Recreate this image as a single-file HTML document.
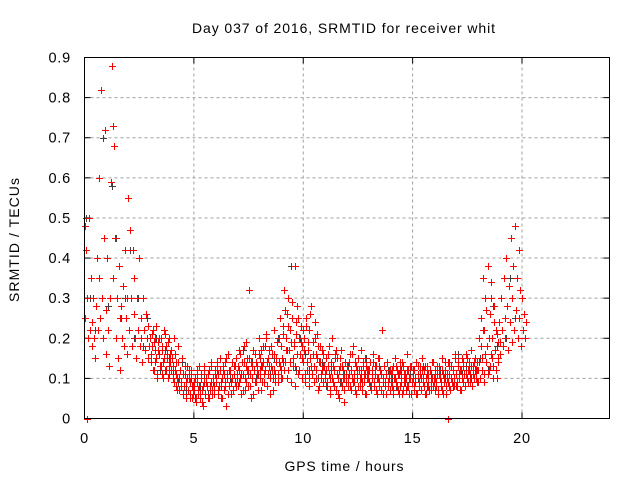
<!DOCTYPE html>
<html><head><meta charset="utf-8"><style>
html,body{margin:0;padding:0;background:#fff}
svg{display:block;font-family:"Liberation Sans",sans-serif}
</style></head><body>
<svg id="chart" width="640" height="480">
<text x="343.5" y="33" font-size="14" text-anchor="middle" textLength="303" lengthAdjust="spacing">Day 037 of 2016, SRMTID for receiver whit</text>
<text x="344" y="471" font-size="14" text-anchor="middle" textLength="119" lengthAdjust="spacing">GPS time / hours</text>
<text transform="translate(19,240) rotate(-90)" font-size="14" text-anchor="middle" textLength="124" lengthAdjust="spacing">SRMTID / TECUs</text>
<g id="grid"></g><g id="ticks"></g><g id="marks"></g>
<rect x="84.5" y="57.5" width="525" height="361" fill="none" stroke="#000" stroke-width="1"/>
</svg>
<script>
const xTicks=[0,5,10,15,20];
const yTicks=[0,0.1,0.2,0.3,0.4,0.5,0.6,0.7,0.8,0.9];
const yTickLabels=["0","0.1","0.2","0.3","0.4","0.5","0.6","0.7","0.8","0.9"];
// red series A: 25 samples per hour starting at 0 h
const redStartA=0, redRateA=25;
const redA=[
0.48,0.25,0.42,0.3,0.2,0.5,0.22,0.35,0.18,0.24,0.3,0.2,0.15,0.28,0.4,0.22,0.6,0.35,0.25,0.82,0.3,0.2,0.45,0.72,0.27,
0.16,0.4,0.22,0.13,0.3,0.59,0.88,0.73,0.35,0.68,0.45,0.2,0.3,0.15,0.38,0.25,0.12,0.28,0.2,0.33,0.18,0.42,0.25,0.16,0.3,
0.55,0.22,0.47,0.3,0.18,0.42,0.26,0.35,0.2,0.15,0.3,0.22,0.4,0.18,0.25,0.2,0.14,0.3,0.22,0.17,0.26,0.2,0.15,0.23,0.18,
0.2,0.14,0.18,0.22,0.12,0.17,0.2,0.15,0.1,0.19,0.16,0.13,0.2,0.11,0.17,0.14,0.22,0.12,0.18,0.15,0.1,0.2,0.13,0.16,0.12,
0.15,0.1,0.2,0.12,0.08,0.14,0.1,0.18,0.07,0.12,0.09,0.15,0.06,0.11,0.08,0.13,0.05,0.1,0.07,0.12,0.06,0.09,0.11,0.05,0.08,
0.07,0.1,0.04,0.09,0.12,0.06,0.08,0.05,0.11,0.07,0.03,0.09,0.13,0.06,0.1,0.08,0.05,0.12,0.07,0.09,0.14,0.06,0.1,0.08,0.11,
0.09,0.13,0.06,0.11,0.08,0.15,0.05,0.1,0.12,0.07,0.14,0.09,0.03,0.11,0.16,0.08,0.12,0.06,0.1,0.14,0.07,0.13,0.09,0.15,0.11,
0.08,0.12,0.17,0.1,0.06,0.14,0.11,0.18,0.07,0.13,0.09,0.15,0.12,0.32,0.08,0.14,0.1,0.17,0.06,0.12,0.16,0.09,0.13,0.11,0.2,
0.1,0.15,0.07,0.13,0.18,0.09,0.12,0.2,0.08,0.14,0.11,0.17,0.06,0.13,0.16,0.1,0.22,0.12,0.09,0.15,0.19,0.11,0.14,0.25,0.12,
0.18,0.1,0.23,0.32,0.14,0.2,0.26,0.12,0.3,0.17,0.22,0.09,0.25,0.15,0.19,0.38,0.13,0.24,0.28,0.11,0.2,0.16,0.23,0.1,0.18,
0.14,0.2,0.09,0.25,0.12,0.17,0.22,0.08,0.15,0.28,0.11,0.19,0.13,0.24,0.1,0.16,0.21,0.07,0.14,0.18,0.1,0.12,0.16,0.09,0.13,
0.11,0.15,0.08,0.13,0.18,0.1,0.06,0.14,0.2,0.09,0.12,0.16,0.07,0.11,0.15,0.1,0.05,0.13,0.17,0.08,0.12,0.04,0.1,0.14,0.09,
0.13,0.08,0.11,0.16,0.07,0.12,0.1,0.18,0.09,0.14,0.06,0.11,0.15,0.08,0.12,0.1,0.17,0.07,0.13,0.09,0.11,0.15,0.06,0.12,0.1,
0.09,0.14,0.07,0.12,0.1,0.16,0.08,0.11,0.13,0.06,0.1,0.15,0.09,0.12,0.07,0.22,0.1,0.13,0.08,0.11,0.06,0.14,0.09,0.12,0.07,
0.11,0.08,0.13,0.06,0.1,0.15,0.09,0.12,0.07,0.11,0.14,0.08,0.1,0.06,0.13,0.09,0.11,0.07,0.12,0.16,0.08,0.1,0.13,0.06,0.09,
0.1,0.07,0.12,0.09,0.14,0.06,0.11,0.08,0.13,0.1,0.07,0.15,0.09,0.12,0.06,0.1,0.13,0.08,0.11,0.07,0.12,0.09,0.14,0.08,0.1,
0.07,0.12,0.09,0.11,0.06,0.13,0.1,0.08,0.15,0.07,0.11,0.09,0.12,0.06,0.1,0.14,0.08,0.11,0.07,0.13,0.09,0.12,0.1,0.16,0.08,
0.11,0.08,0.14,0.1,0.12,0.07,0.15,0.09,0.13,0.11,0.08,0.16,0.1,0.12,0.14,0.09,0.11,0.17,0.08,0.13,0.1,0.15,0.12,0.09,0.14,
0.12,0.2,0.1,0.25,0.15,0.35,0.11,0.22,0.3,0.14,0.18,0.38,0.12,0.26,0.16,0.34,0.2,0.13,0.28,0.17,0.22,0.1,0.15,0.19,0.24,
0.16,0.3,0.22,0.18,0.35,0.25,0.2,0.4,0.28,0.17,0.33,0.24,0.45,0.19,0.3,0.38,0.22,0.48,0.27,0.35,0.2,0.42,0.25,0.32,0.18,
0.3,0.22,0.26,0.2,0.24];
// red series B: 20 samples per hour starting at 3 h (offset half-sample)
const redStartB=3, redRateB=20;
const redB=[
0.16,0.21,0.12,0.19,0.14,0.23,0.11,0.17,0.2,0.13,0.18,0.1,0.15,0.21,0.12,0.16,0.19,0.11,0.14,0.17,
0.13,0.09,0.16,0.11,0.07,0.14,0.1,0.12,0.08,0.15,0.06,0.11,0.09,0.13,0.07,0.1,0.05,0.12,0.08,0.06,
0.09,0.05,0.11,0.07,0.13,0.06,0.1,0.04,0.08,0.12,0.06,0.09,0.11,0.05,0.08,0.13,0.07,0.1,0.06,0.12,
0.1,0.14,0.07,0.12,0.09,0.05,0.13,0.11,0.08,0.15,0.1,0.06,0.12,0.09,0.14,0.07,0.11,0.13,0.08,0.1,
0.13,0.09,0.16,0.11,0.07,0.14,0.1,0.19,0.12,0.08,0.15,0.11,0.05,0.13,0.17,0.09,0.14,0.11,0.07,0.16,
0.12,0.17,0.09,0.14,0.11,0.21,0.08,0.15,0.13,0.1,0.18,0.12,0.07,0.16,0.11,0.14,0.09,0.2,0.13,0.1,
0.15,0.21,0.12,0.27,0.17,0.1,0.23,0.14,0.19,0.29,0.13,0.18,0.08,0.21,0.16,0.25,0.12,0.19,0.15,0.22,
0.17,0.11,0.23,0.14,0.19,0.1,0.26,0.13,0.16,0.09,0.2,0.12,0.15,0.18,0.08,0.14,0.11,0.17,0.13,0.1,
0.12,0.09,0.16,0.11,0.07,0.14,0.1,0.13,0.08,0.17,0.11,0.06,0.12,0.15,0.09,0.13,0.1,0.07,0.14,0.11,
0.1,0.14,0.08,0.12,0.16,0.09,0.11,0.07,0.13,0.1,0.15,0.08,0.12,0.09,0.14,0.11,0.06,0.13,0.1,0.12,
0.12,0.08,0.11,0.14,0.09,0.13,0.07,0.1,0.15,0.08,0.12,0.11,0.06,0.13,0.09,0.11,0.14,0.08,0.1,0.12,
0.09,0.12,0.07,0.1,0.13,0.08,0.11,0.06,0.12,0.09,0.14,0.07,0.11,0.1,0.08,0.12,0.06,0.1,0.13,0.09,
0.12,0.08,0.1,0.06,0.13,0.09,0.11,0.07,0.12,0.1,0.08,0.13,0.06,0.11,0.09,0.12,0.07,0.1,0.14,0.09,
0.1,0.08,0.13,0.07,0.11,0.09,0.12,0.06,0.1,0.14,0.08,0.11,0.09,0.13,0.07,0.1,0.12,0.08,0.15,0.11,
0.09,0.13,0.11,0.07,0.12,0.1,0.14,0.08,0.11,0.15,0.09,0.12,0.1,0.13,0.08,0.11,0.14,0.1,0.12,0.09,
0.14,0.1,0.18,0.12,0.22,0.09,0.16,0.27,0.11,0.2,0.13,0.3,0.15,0.1,0.24,0.17,0.12,0.21,0.14,0.19];
// black series: 5 samples per hour from 0 h
const blackStart=0, blackRate=5;
const blackV=[
0.5,0.3,0.22,0.35,0.7,0.28,0.58,0.45,0.25,0.3,
0.42,0.2,0.3,0.18,0.25,0.14,0.2,0.12,0.17,0.15,
0.12,0.09,0.14,0.07,0.1,0.05,0.08,0.11,0.06,0.09,
0.12,0.08,0.15,0.1,0.13,0.09,0.17,0.11,0.14,0.1,
0.13,0.18,0.11,0.15,0.2,0.14,0.17,0.38,0.12,0.2,
0.16,0.12,0.19,0.1,0.14,0.08,0.12,0.15,0.09,0.11,
0.13,0.09,0.12,0.1,0.15,0.08,0.11,0.13,0.09,0.12,
0.1,0.08,0.12,0.09,0.11,0.07,0.1,0.13,0.08,0.11,
0.09,0.12,0.1,0.14,0.08,0.16,0.11,0.13,0.1,0.12,
0.15,0.22,0.12,0.28,0.18,0.3,0.2,0.35,0.25,0.42];
const zeroT=[0.1,16.6];
const zeroV=[0,0];
const NS="http://www.w3.org/2000/svg";
const X0=84.5,X1=609.5,Y0=418.5,Y1=57.5;
function sx(t){return X0+(X1-X0)*t/24;}
function sy(v){return Y0-(Y0-Y1)*v/0.9;}
const grid=document.getElementById('grid'),ticks=document.getElementById('ticks'),marks=document.getElementById('marks');
function mk(tag,attrs,parent){const e=document.createElementNS(NS,tag);for(const k in attrs)e.setAttribute(k,attrs[k]);parent.appendChild(e);return e;}
xTicks.forEach((t)=>{const x=sx(t);
 if(t>0){const g=mk('line',{x1:x,x2:x,y1:Y0,y2:Y1,stroke:'#a0a0a0','stroke-dasharray':'3,3'},grid);
 
 }
 const l=mk('line',{x1:x,x2:x,y1:Y0,y2:Y0-6,stroke:'#000'},ticks);
 
 
 mk('line',{x1:x,x2:x,y1:Y1,y2:Y1+6,stroke:'#000'},ticks);
 const tx=mk('text',{x:x,y:443,'font-size':14.5,'text-anchor':'middle','letter-spacing':'0.8'},ticks);tx.textContent=String(t);
 
 
});
yTicks.forEach((v,i)=>{const y=sy(v);
 if(v>0&&v<0.9){const g=mk('line',{x1:X0,x2:X1,y1:y,y2:y,stroke:'#a0a0a0','stroke-dasharray':'3,3'},grid);
 
 }
 const l=mk('line',{x1:X0,x2:X0+6,y1:y,y2:y,stroke:'#000'},ticks);
 
 
 mk('line',{x1:X1,x2:X1-6,y1:y,y2:y,stroke:'#000'},ticks);
 const tx=mk('text',{x:71,y:y+5,'font-size':14.5,'text-anchor':'end','letter-spacing':'0.8'},ticks);tx.textContent=yTickLabels[i];
 
 
});
function plus(t,v,color,name){const x=Math.round(sx(t))+0.5,y=Math.round(sy(v))+0.5;
 const p=mk('path',{d:`M${x-3.5} ${y}H${x+3.5}M${x} ${y-3.5}V${y+3.5}`,stroke:color,'stroke-width':1,fill:'none'},marks);
 
 }
blackV.forEach((v,i)=>plus(blackStart+(i+0.3)/blackRate,v,'#404040','black-series-point'));
redA.forEach((v,i)=>plus(redStartA+i/redRateA,v,'#ff0000','red-series-point'));
redB.forEach((v,i)=>plus(redStartB+(i+0.5)/redRateB,v,'#ff0000','red-series-point'));
zeroT.forEach((t,i)=>plus(t,zeroV[i],'#ff0000','red-series-point'));
</script>
</body></html>
